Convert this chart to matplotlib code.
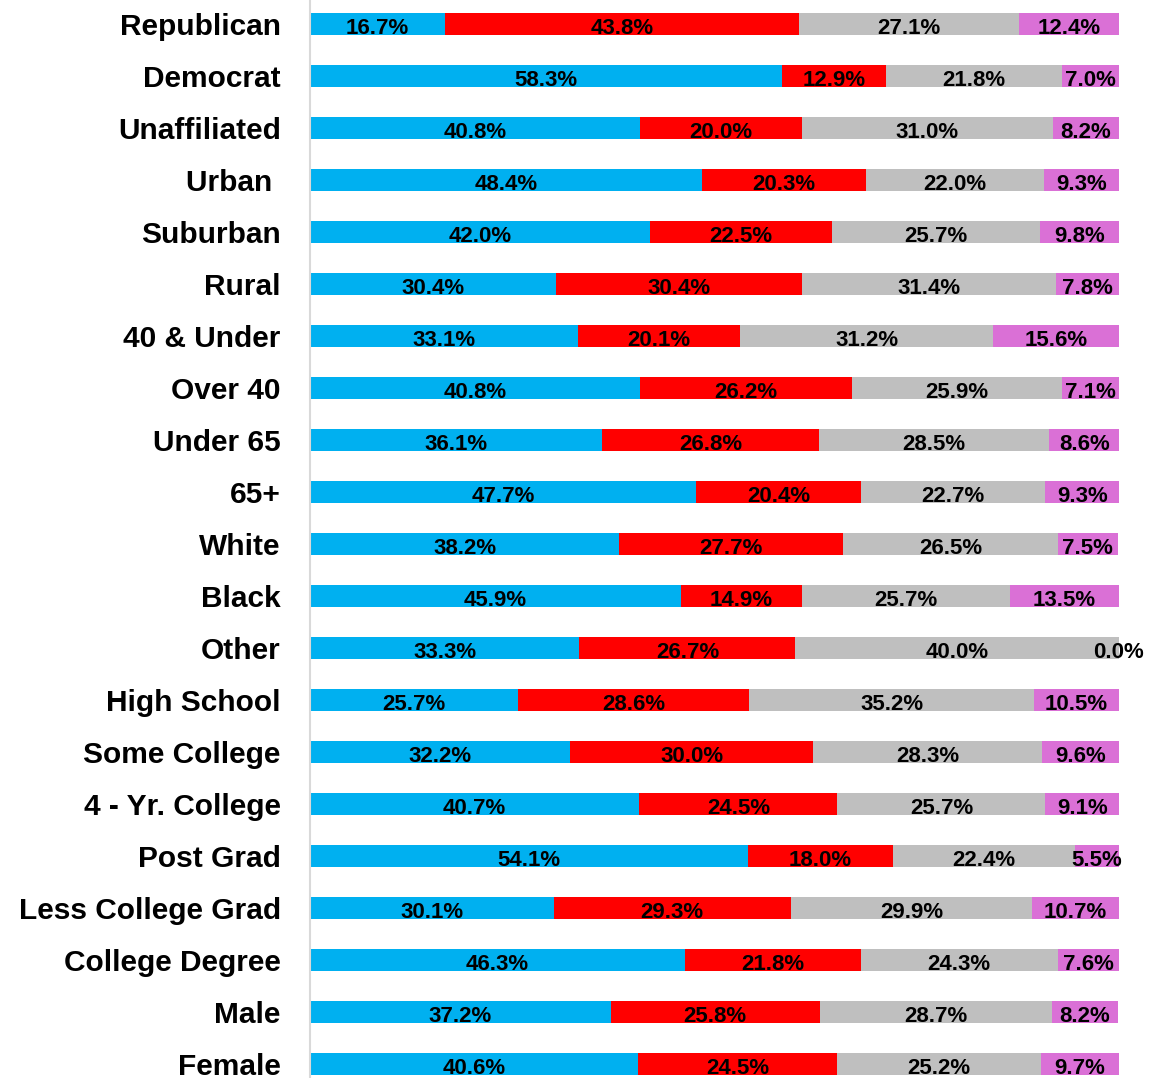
import numpy as np
import matplotlib
matplotlib.use("Agg")
import matplotlib.pyplot as plt

# groups shown top to bottom
groups = ['Republican', 'Democrat', 'Unaffiliated', 'Urban ', 'Suburban', 'Rural',
          '40 & Under', 'Over 40', 'Under 65', '65+', 'White', 'Black', 'Other',
          'High School', 'Some College', '4 - Yr. College', 'Post Grad',
          'Less College Grad', 'College Degree', 'Male', 'Female']

blue = [16.7, 58.3, 40.8, 48.4, 42.0, 30.4, 33.1, 40.8, 36.1, 47.7, 38.2,
        45.9, 33.3, 25.7, 32.2, 40.7, 54.1, 30.1, 46.3, 37.2, 40.6]
red = [43.8, 12.9, 20.0, 20.3, 22.5, 30.4, 20.1, 26.2, 26.8, 20.4, 27.7,
       14.9, 26.7, 28.6, 30.0, 24.5, 18.0, 29.3, 21.8, 25.8, 24.5]
gray = [27.1, 21.8, 31.0, 22.0, 25.7, 31.4, 31.2, 25.9, 28.5, 22.7, 26.5,
        25.7, 40.0, 35.2, 28.3, 25.7, 22.4, 29.9, 24.3, 28.7, 25.2]
pink = [12.4, 7.0, 8.2, 9.3, 9.8, 7.8, 15.6, 7.1, 8.6, 9.3, 7.5,
        13.5, 0.0, 10.5, 9.6, 9.1, 5.5, 10.7, 7.6, 8.2, 9.7]

series = [blue, red, gray, pink]
colors = ['#00B0F0', '#FF0000', '#BFBFBF', '#DA70D6']

plt.rcParams['font.family'] = ['Liberation Sans', 'DejaVu Sans']

fig = plt.figure(figsize=(11.7, 10.78), dpi=100)
ax = fig.add_axes([310 / 1170, 0, 809 / 1170, 1])

y = np.arange(len(groups))
left = np.zeros(len(groups))
for vals, c in zip(series, colors):
    vals = np.array(vals)
    ax.barh(y, vals, left=left, height=0.41, color=c, edgecolor='none')
    for yi, (l, v) in enumerate(zip(left, vals)):
        ax.text(l + v / 2, yi + 0.04, f'{v:.1f}%', ha='center', va='center_baseline',
                fontsize=16, fontweight='bold', color='black')
    left = left + vals

ax.set_xlim(0, 100)
ax.set_ylim(20.27, -0.46)
ax.set_yticks(y)
ax.set_yticklabels(groups, fontsize=21.5, fontweight='bold')
ax.tick_params(axis='y', length=0, pad=21)
ax.set_xticks([])
for s in ['top', 'right', 'bottom']:
    ax.spines[s].set_visible(False)
ax.spines['left'].set_color('#D9D9D9')
ax.spines['left'].set_linewidth(1.5)

plt.savefig('out.png', dpi=100)
plt.close()
